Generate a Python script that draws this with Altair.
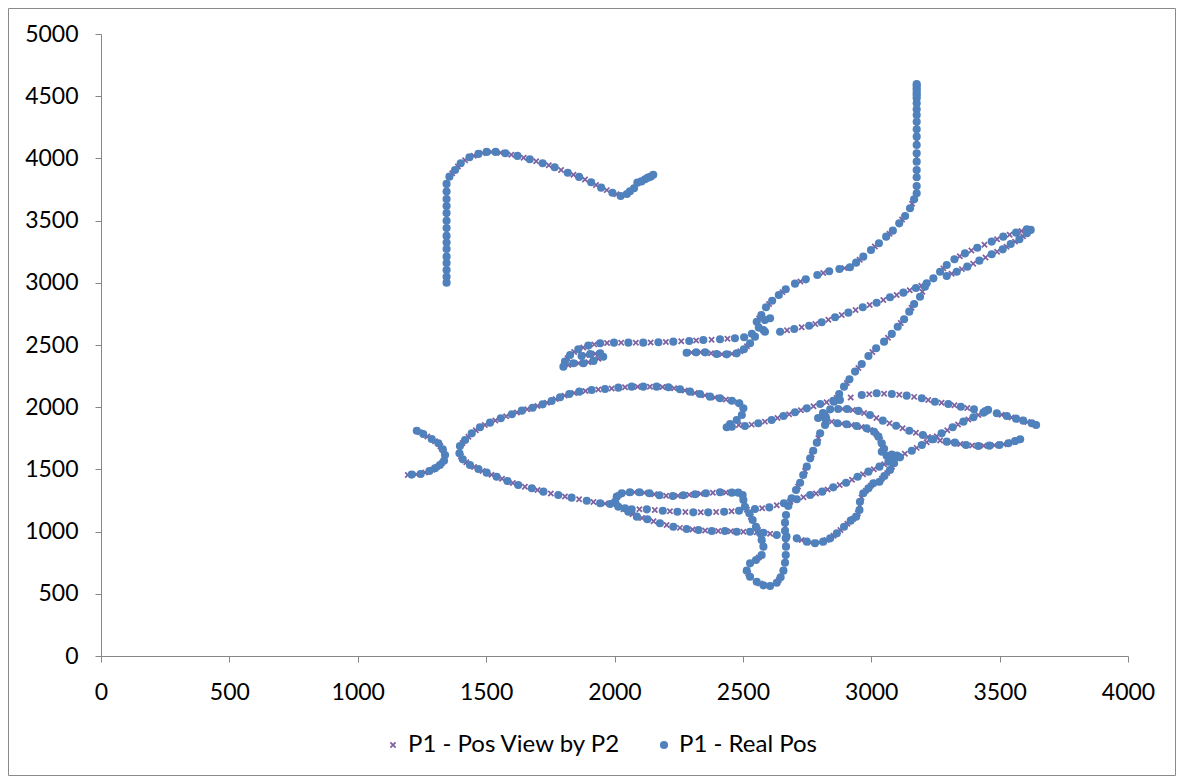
import altair as alt
import pandas as pd

SERIES = ["P1 - Pos View by P2", "P1 - Real Pos"]
X_TICKS = [0, 500, 1000, 1500, 2000, 2500, 3000, 3500, 4000]
Y_TICKS = [0, 500, 1000, 1500, 2000, 2500, 3000, 3500, 4000, 4500, 5000]

# ---------------- P1 - Real Pos (segments) ----------------
hook_x = [1346, 1346, 1346, 1346, 1346, 1346, 1346, 1346, 1346, 1346, 1346, 1346, 1346, 1346, 1346,
          1357, 1379, 1401, 1435, 1470, 1502, 1537, 1575, 1622, 1670, 1720, 1767, 1818, 1862, 1909,
          1948, 1992, 2024, 2048, 2076, 2089, 2119, 2141, 2151, 2060, 2105, 2130]
hook_y = [3001, 3049, 3103, 3159, 3210, 3272, 3323, 3377, 3441, 3499, 3561, 3617, 3674, 3733, 3795,
          3853, 3907, 3961, 4009, 4036, 4052, 4052, 4041, 4020, 3993, 3961, 3929, 3885, 3851, 3808,
          3765, 3724, 3698, 3714, 3760, 3805, 3832, 3853, 3869, 3735, 3815, 3845]

tower_x = [3177, 3177, 3177, 3177, 3177, 3177, 3177, 3177, 3177, 3177, 3177, 3177, 3177, 3177, 3177, 3177, 3177,
           3177, 3177, 3177,
           3167, 3151, 3132, 3109, 3084, 3058, 3030, 2999, 2969, 2941, 2917,
           2876, 2836, 2790, 2745, 2703, 2667, 2640, 2614, 2590, 2572, 2554]
tower_y = [4598, 4564, 4524, 4483, 4443, 4395, 4349, 4295, 4234, 4175, 4108, 4041, 3974, 3907, 3848, 3778, 3720,
           4585, 4545, 4505,
           3671, 3599, 3537, 3478, 3419, 3371, 3318, 3264, 3210, 3162, 3125,
           3111, 3093, 3063, 3028, 2993, 2948, 2902, 2856, 2803, 2741, 2687]

knot_x = [2606, 2586, 2580, 2586, 2547, 2528, 2504, 2476, 2437, 2398, 2353, 2318, 2281, 2505, 2535, 2562]
knot_y = [2715, 2701, 2621, 2607, 2567, 2514, 2466, 2433, 2425, 2428, 2441, 2441, 2438, 2562, 2590, 2640]

band_x = [2469, 2411, 2346, 2291, 2229, 2171, 2112, 2054, 1998, 1944, 1898, 1859, 1827, 1807, 1801,
          1840, 1879, 1918, 1956, 1944, 1905, 1872]
band_y = [2554, 2546, 2540, 2532, 2527, 2522, 2519, 2519, 2519, 2514, 2495, 2466, 2420, 2366, 2326,
          2353, 2353, 2372, 2406, 2433, 2428, 2412]

rise_x = [2645, 2700, 2758, 2807, 2859, 2911, 2967, 3021, 3073, 3125, 3174, 3216, 3242]
rise_y = [2607, 2629, 2655, 2683, 2723, 2760, 2803, 2840, 2884, 2921, 2958, 2996, 3036]

pair_up_x = [3268, 3294, 3324, 3365, 3413, 3469, 3514, 3564, 3606, 3621, 3611]
pair_up_y = [3089, 3143, 3189, 3237, 3282, 3331, 3371, 3403, 3430, 3425, 3417]
pair_lo_x = [3294, 3333, 3374, 3421, 3469, 3512, 3543, 3577, 3606]
pair_lo_y = [3055, 3089, 3130, 3178, 3229, 3269, 3312, 3350, 3398]

diag_x = [3209, 3190, 3167, 3148, 3128, 3103, 3080, 3050, 3019, 2989, 2963, 2937, 2915, 2894, 2875,
          2855, 2840, 2813, 2820, 2801, 2788, 2774, 2762, 2749, 2735, 2723, 2707, 2690, 2677, 2668,
          2664, 2664, 2667, 2668, 2667, 2664, 2658, 2647, 2632, 2606, 2580, 2554, 2528, 2515, 2528,
          2551, 2573, 2580, 2573, 2567, 2551, 2538, 2525, 2508, 2502, 2499, 2482, 2457]
diag_y = [2969, 2888, 2830, 2768, 2707, 2647, 2589, 2527, 2474, 2412, 2347, 2286, 2224, 2165, 2106,
          2044, 1983, 1924, 1857, 1790, 1715, 1650, 1589, 1522, 1455, 1393, 1334, 1268, 1206, 1133,
          1072, 1007, 946, 879, 812, 750, 686, 633, 589, 563, 568, 597, 637, 686, 745,
          772, 812, 879, 933, 986, 1039, 1093, 1147, 1200, 1254, 1294, 1313, 1313]

bot_up_x = [2411, 2356, 2314, 2268, 2227, 2175, 2136, 2097, 2060, 2028, 2009, 2002, 2015]
bot_up_y = [1316, 1308, 1300, 1292, 1286, 1292, 1308, 1316, 1316, 1308, 1281, 1240, 1200]

mid_x = [2041, 2067, 2126, 2188, 2245, 2307, 2365, 2427, 2485, 2547, 2603, 2660, 2710, 2762, 2809,
         2852, 2902, 2947, 2989, 3032, 3067, 3105, 3158, 3197, 3236, 3274, 3317, 3359, 3398, 3437, 3455]
mid_y = [1187, 1179, 1179, 1168, 1160, 1155, 1155, 1160, 1168, 1182, 1195, 1228, 1260, 1294, 1321,
         1356, 1393, 1441, 1482, 1522, 1562, 1602, 1650, 1696, 1742, 1790, 1839, 1884, 1919, 1956, 1978]

bot_lo_x = [2054, 2087, 2128, 2177, 2229, 2281, 2327, 2379, 2430, 2476, 2528, 2580, 2632, 2670, 2710,
            2749, 2781, 2813, 2840, 2866, 2894, 2920, 2941, 2954, 2956, 2969, 2989, 3008, 3032, 3051,
            3073, 3089, 3085, 3112]
bot_lo_y = [1160, 1120, 1099, 1067, 1039, 1021, 1013, 1005, 1005, 999, 999, 991, 973, 960, 946,
            919, 906, 919, 946, 986, 1039, 1088, 1120, 1174, 1240, 1308, 1348, 1388, 1401, 1447,
            1495, 1549, 1576, 1597]

zig_x = [3041, 3041, 3028, 3011, 2982, 2943, 2904, 2868, 2824, 2812, 2793, 2824, 3060, 3080, 3100, 3050]
zig_y = [1642, 1710, 1763, 1803, 1830, 1849, 1863, 1871, 1897, 1953, 1913, 1913, 1610, 1620, 1612, 1665]

cross_x = [2871, 2906, 2950, 2995, 3045, 3097, 3148, 3201, 3242, 3294, 3326, 3369, 3417, 3460, 3499,
           3534, 3560, 3580]
cross_y = [1986, 1986, 1970, 1937, 1892, 1851, 1811, 1777, 1742, 1723, 1715, 1696, 1688, 1691, 1696,
           1710, 1728, 1742]

arch_x = [2878, 2963, 3021, 3080, 3138, 3197, 3248, 3300, 3349, 3400, 3445, 3489, 3528, 3564, 3592,
          3625, 3642]
arch_y = [2058, 2098, 2112, 2106, 2093, 2072, 2044, 2026, 2004, 1983, 1968, 1951, 1929, 1908, 1892,
          1871, 1857]

link_x = [2486, 2502, 2496, 2476, 2450, 2437, 2457, 2508, 2560, 2612, 2658, 2703, 2749, 2801, 2852]
link_y = [2031, 1991, 1937, 1897, 1865, 1839, 1843, 1849, 1871, 1897, 1929, 1959, 1991, 2026, 2052]

c_x = [2457, 2411, 2372, 2333, 2294, 2255, 2210, 2164, 2112, 2067, 2015, 1963, 1911, 1863, 1824,
       1788, 1755, 1720, 1681, 1639, 1600, 1557, 1515, 1476, 1444, 1418, 1398, 1396, 1409, 1437,
       1470, 1502, 1541, 1583, 1625, 1678, 1723, 1781, 1833, 1892, 1944, 1983]
c_y = [2052, 2072, 2085, 2106, 2125, 2144, 2160, 2165, 2165, 2165, 2157, 2146, 2138, 2125, 2106,
       2080, 2050, 2023, 1996, 1972, 1943, 1911, 1876, 1839, 1790, 1736, 1688, 1630, 1581, 1535,
       1503, 1474, 1441, 1407, 1375, 1348, 1321, 1294, 1273, 1248, 1228, 1222]

arc_x = [1230, 1255, 1288, 1314, 1331, 1340, 1336, 1320, 1301, 1279, 1245, 1210]
arc_y = [1811, 1785, 1744, 1710, 1662, 1616, 1570, 1535, 1509, 1487, 1463, 1458]

# ---------------- P1 - Pos View by P2 ----------------
v_hook_x = [1346, 1346, 1346, 1346, 1346, 1346, 1346, 1368, 1390, 1418, 1452, 1486, 1520, 1556, 1598,
            1646, 1695, 1744, 1792, 1840, 1885, 1928, 1970, 2008, 2062, 2104, 2130]
v_hook_y = [3075, 3185, 3297, 3410, 3530, 3645, 3765, 3880, 3934, 3985, 4022, 4044, 4052, 4046, 4030,
            4006, 3977, 3945, 3907, 3868, 3830, 3786, 3745, 3711, 3737, 3818, 3843]

v_tower_x = [3177, 3177, 3177, 3177, 3177, 3177, 3177, 3177, 3159, 3120, 3071, 3014, 2955, 2896, 2813,
             2724, 2654, 2602, 2563]
v_tower_y = [4544, 4463, 4372, 4265, 4141, 4008, 3877, 3749, 3635, 3508, 3395, 3291, 3186, 3118, 3078,
             3010, 2925, 2830, 2714]

v_band_x = [2440, 2378, 2318, 2260, 2200, 2141, 2083, 2026, 1971, 1921, 1878, 1843, 1817, 1820, 1860,
            1898, 1937, 1925, 1888, 2457, 2418, 2376, 2335, 2300, 2490, 2516]
v_band_y = [2550, 2543, 2536, 2530, 2524, 2520, 2519, 2519, 2516, 2505, 2480, 2443, 2393, 2340, 2353,
            2362, 2389, 2430, 2420, 2429, 2426, 2434, 2441, 2440, 2450, 2490]

v_rise_x = [2672, 2729, 2782, 2833, 2885, 2939, 2994, 3047, 3099, 3150, 3195]
v_rise_y = [2618, 2642, 2669, 2703, 2741, 2781, 2821, 2862, 2902, 2940, 2977]

v_pair_x = [3281, 3345, 3390, 3441, 3490, 3539, 3585, 3313, 3353, 3397, 3445, 3490, 3527, 3560, 3591]
v_pair_y = [3116, 3213, 3260, 3306, 3350, 3387, 3416, 3072, 3110, 3154, 3203, 3249, 3290, 3331, 3374]

v_diag_x = [3199, 3157, 3115, 3065, 3004, 2950, 2905, 2865, 2826, 2794, 2768, 2742, 2715, 2683, 2666,
            2667, 2666, 2640, 2567, 2521, 2562, 2577, 2559, 2531, 2505]
v_diag_y = [2928, 2799, 2677, 2558, 2443, 2316, 2195, 2075, 1953, 1752, 1620, 1488, 1363, 1237, 1040,
            912, 781, 611, 582, 661, 792, 906, 1012, 1120, 1227]

v_bot_up_x = [2434, 2383, 2335, 2291, 2247, 2201, 2155, 2116, 2078, 2044, 2018, 2005, 2008]
v_bot_up_y = [1314, 1312, 1304, 1296, 1289, 1289, 1300, 1312, 1316, 1312, 1295, 1260, 1220]

v_mid_x = [2097, 2157, 2216, 2276, 2336, 2396, 2456, 2516, 2575, 2632, 2685, 2736, 2785, 2830, 2877,
           2925, 2968, 3010, 3050, 3086, 3131, 3177, 3216, 3255, 3296, 3338, 3378, 3417]
v_mid_y = [1179, 1173, 1164, 1157, 1155, 1157, 1164, 1175, 1188, 1211, 1244, 1277, 1307, 1338, 1374,
           1417, 1461, 1502, 1542, 1582, 1626, 1673, 1719, 1766, 1814, 1861, 1901, 1937]

v_bot_lo_x = [2035, 2070, 2107, 2152, 2203, 2255, 2304, 2353, 2404, 2453, 2502, 2554, 2606, 2671, 2729,
              2765, 2797, 2826, 2853, 2880, 2907, 2930, 2948, 2955, 2962, 2979, 2998, 3020, 3041, 3062, 3081]
v_bot_lo_y = [1180, 1140, 1110, 1083, 1053, 1030, 1017, 1009, 1005, 1002, 999, 995, 982, 960, 932,
              912, 912, 932, 966, 1012, 1063, 1104, 1147, 1207, 1274, 1328, 1368, 1394, 1424, 1471, 1522]

v_zig_x = [3041, 3035, 3020, 2996, 2962, 2923, 2886, 2846]
v_zig_y = [1676, 1736, 1783, 1816, 1840, 1856, 1867, 1884]

v_cross_x = [2888, 2928, 2972, 3020, 3071, 3122, 3174, 3221, 3268, 3310, 3347, 3393, 3438, 3480, 3516, 3547, 3570]
v_cross_y = [1986, 1978, 1953, 1914, 1871, 1831, 1794, 1760, 1732, 1719, 1705, 1692, 1690, 1694, 1703, 1719, 1735]

v_arch_x = [2920, 2992, 3050, 3109, 3167, 3222, 3274, 3324, 3374, 3444, 3508, 3546, 3578, 3608, 3633]
v_arch_y = [2078, 2105, 2109, 2100, 2083, 2058, 2035, 2015, 1993, 1967, 1940, 1918, 1900, 1881, 1864]

v_link_x = [2484, 2534, 2586, 2635, 2680, 2726, 2775, 2826]
v_link_y = [1857, 1860, 1884, 1913, 1944, 1975, 2008, 2039]

v_c_x = [2480, 2434, 2391, 2352, 2313, 2274, 2232, 2187, 2138, 2090, 2041, 1989, 1937, 1887, 1843,
         1806, 1771, 1737, 1700, 1660, 1620, 1578, 1536, 1495, 1460, 1431, 1408, 1397, 1402, 1423,
         1453, 1486, 1521, 1562, 1604, 1651, 1700, 1752, 1807, 1862, 1918, 1963]
v_c_y = [2040, 2062, 2078, 2095, 2115, 2134, 2152, 2162, 2165, 2165, 2161, 2151, 2142, 2131, 2115,
         2093, 2065, 2036, 2010, 1984, 1957, 1927, 1893, 1857, 1815, 1763, 1712, 1659, 1606, 1558,
         1519, 1488, 1457, 1424, 1391, 1361, 1334, 1307, 1283, 1260, 1238, 1225]

v_arc_x = [1242, 1271, 1301, 1322, 1336, 1338, 1328, 1310, 1290, 1262, 1228, 1195]
v_arc_y = [1798, 1764, 1727, 1686, 1639, 1593, 1552, 1522, 1498, 1475, 1460, 1455]

real_segments = [(hook_x, hook_y), (tower_x, tower_y), (knot_x, knot_y), (band_x, band_y),
                 (rise_x, rise_y), (pair_up_x, pair_up_y), (pair_lo_x, pair_lo_y), (diag_x, diag_y),
                 (bot_up_x, bot_up_y), (mid_x, mid_y), (bot_lo_x, bot_lo_y), (zig_x, zig_y),
                 (cross_x, cross_y), (arch_x, arch_y), (link_x, link_y), (c_x, c_y), (arc_x, arc_y)]
view_segments = [(v_hook_x, v_hook_y), (v_tower_x, v_tower_y), (v_band_x, v_band_y), (v_rise_x, v_rise_y),
                 (v_pair_x, v_pair_y), (v_diag_x, v_diag_y), (v_bot_up_x, v_bot_up_y), (v_mid_x, v_mid_y),
                 (v_bot_lo_x, v_bot_lo_y), (v_zig_x, v_zig_y), (v_cross_x, v_cross_y), (v_arch_x, v_arch_y),
                 (v_link_x, v_link_y), (v_c_x, v_c_y), (v_arc_x, v_arc_y)]

rows = []
for xs, ys in view_segments:
    for a, b in zip(xs, ys):
        rows.append({"x": a, "y": b, "series": SERIES[0]})
for xs, ys in real_segments:
    for a, b in zip(xs, ys):
        rows.append({"x": a, "y": b, "series": SERIES[1]})
df = pd.DataFrame(rows)

X_SHAPE = "M-1,-0.62L-0.62,-1L0,-0.38L0.62,-1L1,-0.62L0.38,0L1,0.62L0.62,1L0,0.38L-0.62,1L-1,0.62L-0.38,0Z"

legend = alt.Legend(
    title=None, orient="none", direction="horizontal", legendX=280, legendY=699,
    labelFont="Lato", labelFontSize=24, labelColor="#000000", labelOffset=3, labelLimit=0,
    columnPadding=31, symbolStrokeWidth=0,
)

points = alt.Chart(df).mark_point(filled=True, opacity=1, strokeWidth=0).encode(
    x=alt.X("x:Q", scale=alt.Scale(domain=[0, 4000], nice=False, zero=False),
            axis=alt.Axis(values=X_TICKS, title=None, labelPadding=19, format="d")),
    y=alt.Y("y:Q", scale=alt.Scale(domain=[0, 5000], nice=False, zero=False),
            axis=alt.Axis(values=Y_TICKS, title=None, labelPadding=17, format="d")),
    color=alt.Color("series:N", scale=alt.Scale(domain=SERIES, range=["#7F60A0", "#4F81BD"]), legend=legend),
    shape=alt.Shape("series:N", scale=alt.Scale(domain=SERIES, range=[X_SHAPE, "circle"]), legend=legend),
    size=alt.Size("series:N", scale=alt.Scale(domain=SERIES, range=[42, 66]), legend=legend),
)

border = alt.Chart(alt.Data(values=[{"k": 1}])).mark_rect(
    fillOpacity=0, stroke="#8a8a8a", strokeWidth=1
).encode(
    x=alt.value(-92.5), x2=alt.value(1074.5), y=alt.value(-25.5), y2=alt.value(741.5)
)

chart = alt.layer(points, border).properties(
    width=1027, height=622,
    padding={"left": 93, "top": 26, "right": 48, "bottom": 120},
    autosize=alt.AutoSizeParams(type="none"),
).configure_view(stroke=None).configure_axis(
    grid=False, domainColor="#868686", tickColor="#868686", domainWidth=1, tickWidth=1,
    tickSize=6, labelFont="Lato", labelFontSize=23, labelColor="#000000",
    labelFlush=False, labelOverlap=False,
)

chart.save("out.html", embed_options={"renderer": "svg", "actions": False})
